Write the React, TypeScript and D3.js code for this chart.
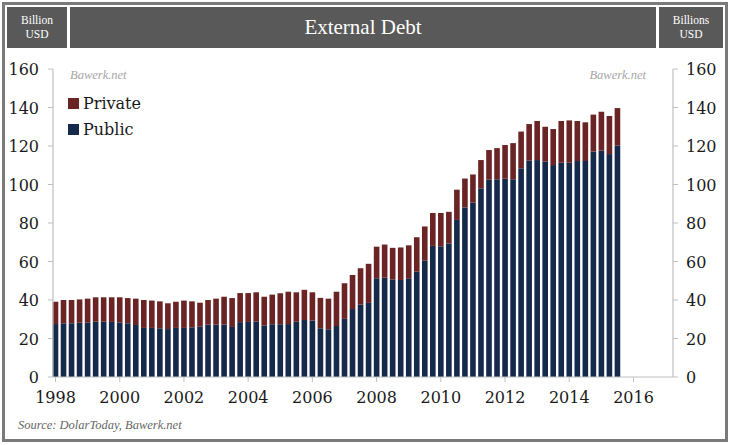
import React from "react";
import * as d3 from "d3";

const startYear = 1998;
const periodsPerYear = 4;

const publicDebt = [
  27.5, 27.9, 27.9, 28.2, 28.2, 28.7, 28.7, 28.6, 28.4, 27.9,
  27.0, 25.5, 25.5, 25.3, 24.9, 25.5, 25.5, 25.8, 26.1, 27.2,
  27.2, 27.3, 26.0, 28.5, 28.6, 28.9, 26.8, 27.4, 27.4, 27.5,
  28.7, 29.6, 29.3, 25.3, 24.8, 26.5, 30.2, 35.3, 37.6, 38.5,
  51.3, 51.6, 50.7, 50.4, 51.3, 54.7, 60.4, 68.1, 67.9, 69.4,
  81.6, 88.1, 90.6, 98.0, 102.5, 102.7, 103.0, 102.7, 108.4, 112.4,
  112.7, 111.9, 110.1, 111.3, 111.3, 112.2, 112.2, 117.1, 117.6, 115.8,
  120.2,
];

const privateDebt = [
  11.6, 12.1, 12.1, 12.1, 12.5, 12.7, 12.7, 12.8, 13.0, 13.1,
  13.7, 14.5, 14.2, 14.0, 13.4, 13.6, 14.2, 13.5, 12.5, 12.8,
  13.5, 14.4, 15.0, 15.1, 15.0, 15.1, 14.9, 15.4, 16.1, 16.8,
  15.3, 15.7, 14.7, 15.8, 15.9, 17.8, 18.5, 17.7, 18.9, 20.3,
  16.4, 17.2, 16.4, 16.9, 17.1, 17.9, 17.8, 17.1, 17.3, 16.4,
  15.7, 15.0, 14.6, 14.7, 15.4, 16.2, 17.5, 18.8, 19.1, 19.0,
  20.3, 18.1, 18.7, 21.7, 22.0, 20.8, 20.1, 19.2, 20.2, 19.8,
  19.5,
];

const yearTicks = [1998, 2000, 2002, 2004, 2006, 2008, 2010, 2012, 2014, 2016];
const valueTicks = [0, 20, 40, 60, 80, 100, 120, 140, 160];
const seriesNames = ["Private", "Public"];
const colors: Record<string, string> = { Private: "#6b2424", Public: "#15294b" };

const W = 730;
const H = 445;

export default function App() {
  const x = d3.scaleLinear().domain([1998, 2016]).range([55.5, 633.5]);
  const y = d3.scaleLinear().domain([0, 160]).range([377, 69]);
  const barW = 5.6;
  const axisL = 53;
  const axisR = 673;
  const serif = "'DejaVu Serif', serif";
  const labelFont = "'Liberation Serif', 'DejaVu Serif', serif";

  const rows = publicDebt.map((p, i) => ({
    t: startYear + i / periodsPerYear,
    Public: p,
    Private: privateDebt[i],
  }));
  const stack = d3.stack<any>().keys(["Public", "Private"])(rows);

  return (
    <div style={{ position: "absolute", left: 0, top: 0 }}>
      <svg width={W} height={H} style={{ display: "block" }}>
        <rect x={0} y={0} width={W} height={H} fill="#ffffff" />
        {/* outer frame */}
        <rect x={3.5} y={3.5} width={723} height={437} fill="none" stroke="#7a7a7a" strokeWidth={3} />
        {/* header */}
        <rect x={7} y={7} width={60} height={41} fill="#595959" />
        <rect x={70} y={7} width={586} height={41} fill="#595959" />
        <rect x={659} y={7} width={64} height={41} fill="#595959" />
        <text x={37} y={24} textAnchor="middle" fill="#fff" fontFamily={labelFont} fontSize={11.5}>Billion</text>
        <text x={37} y={38} textAnchor="middle" fill="#fff" fontFamily={labelFont} fontSize={11.5}>USD</text>
        <text x={691} y={24} textAnchor="middle" fill="#fff" fontFamily={labelFont} fontSize={11.5}>Billions</text>
        <text x={691} y={38} textAnchor="middle" fill="#fff" fontFamily={labelFont} fontSize={11.5}>USD</text>
        <text x={363} y={34} textAnchor="middle" fill="#fff" fontFamily={labelFont} fontSize={21}>External Debt</text>

        {/* watermarks */}
        <text x={70} y={79} fill="#a6a6a6" fontFamily={labelFont} fontStyle="italic" fontSize={12.5}>Bawerk.net</text>
        <text x={646} y={79} textAnchor="end" fill="#a6a6a6" fontFamily={labelFont} fontStyle="italic" fontSize={12.5}>Bawerk.net</text>

        {/* bars */}
        {stack.map((s) => (
          <g key={s.key} fill={colors[s.key]}>
            {s.map((d, i) => (
              <rect
                key={i}
                x={x(d.data.t) - barW / 2}
                y={y(d[1])}
                width={barW}
                height={y(d[0]) - y(d[1])}
              />
            ))}
          </g>
        ))}

        {/* axes */}
        <line x1={axisL} x2={axisL} y1={69} y2={377} stroke="#bfbfbf" strokeWidth={1.2} />
        <line x1={axisR} x2={axisR} y1={69} y2={377} stroke="#bfbfbf" strokeWidth={1.2} />
        <line x1={axisL} x2={axisR} y1={377} y2={377} stroke="#bfbfbf" strokeWidth={1.2} />
        {valueTicks.map((v) => (
          <g key={v}>
            <line x1={axisL - 5} x2={axisL} y1={y(v)} y2={y(v)} stroke="#bfbfbf" />
            <line x1={axisR} x2={axisR + 5} y1={y(v)} y2={y(v)} stroke="#bfbfbf" />
            <text x={39} y={y(v) + 6} textAnchor="end" fill="#1a1a1a" fontFamily={serif} fontSize={16}>{v}</text>
            <text x={686} y={y(v) + 6} textAnchor="start" fill="#1a1a1a" fontFamily={serif} fontSize={16}>{v}</text>
          </g>
        ))}
        {yearTicks.map((t) => (
          <g key={t}>
            <line x1={x(t)} x2={x(t)} y1={377} y2={382} stroke="#bfbfbf" />
            <text x={x(t)} y={403} textAnchor="middle" fill="#1a1a1a" fontFamily={serif} fontSize={16}>{t}</text>
          </g>
        ))}

        {/* legend */}
        {seriesNames.map((n, i) => (
          <g key={n} transform={`translate(68, ${98 + i * 26})`}>
            <rect x={0} y={0} width={11} height={11} fill={colors[n]} />
            <text x={15} y={11} fill="#1a1a1a" fontFamily={serif} fontSize={16}>{n}</text>
          </g>
        ))}

        {/* source */}
        <text x={18} y={429} fill="#666" fontFamily={labelFont} fontStyle="italic" fontSize={12.5}>Source: DolarToday, Bawerk.net</text>
      </svg>
    </div>
  );
}
